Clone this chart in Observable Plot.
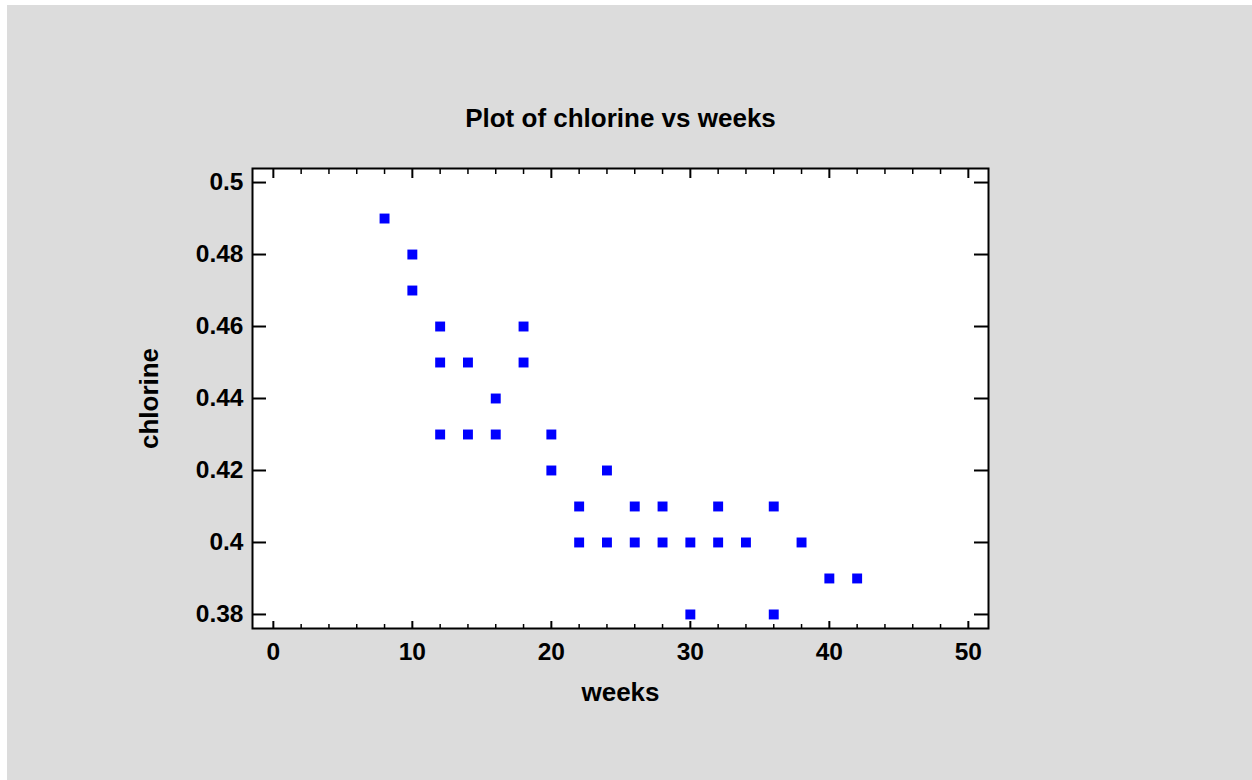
<!DOCTYPE html>
<html><head><meta charset="utf-8">
<script src="https://cdn.jsdelivr.net/npm/d3@7"></script>
<script src="https://cdn.jsdelivr.net/npm/@observablehq/plot@0.6"></script>
<style>
html,body{margin:0;padding:0;background:#fff;}
#chart{position:absolute;left:7px;top:5px;width:1245px;height:775px;background:#dcdcdc;}
#chart svg{display:block;}
</style></head><body><div id="chart"></div>
<script>
const weeks    = [8, 10, 10, 12, 12, 12, 14, 14, 16, 16, 18, 18, 20, 20, 22, 22, 24, 24, 26, 26, 28, 28, 30, 30, 32, 32, 34, 36, 36, 38, 40, 42];
const chlorine = [0.49, 0.48, 0.47, 0.46, 0.45, 0.43, 0.45, 0.43, 0.44, 0.43, 0.46, 0.45, 0.43, 0.42, 0.41, 0.40, 0.42, 0.40, 0.41, 0.40, 0.41, 0.40, 0.40, 0.38, 0.41, 0.40, 0.40, 0.41, 0.38, 0.40, 0.39, 0.39];
const xMajorTicks = [0, 10, 20, 30, 40, 50];
const xMinorTicks = [2, 4, 6, 8, 12, 14, 16, 18, 22, 24, 26, 28, 32, 34, 36, 38, 42, 44, 46, 48];
const yTicks = [0.38, 0.40, 0.42, 0.44, 0.46, 0.48, 0.50];
const yTickLabels = ["0.38", "0.4", "0.42", "0.44", "0.46", "0.48", "0.5"];
const titleText = "Plot of chlorine vs weeks";
const xLabel = "weeks";
const yLabel = "chlorine";

const data = weeks.map((w, i) => ({weeks: w, chlorine: chlorine[i]}));
const yLabelMap = new Map(yTicks.map((t, i) => [t, yTickLabels[i]]));

const W = 1245, H = 775, mL = 245, mR = 264, mT = 163, mB = 152;
const innerW = W - mL - mR, innerH = H - mT - mB;

const chart = Plot.plot({
  width: W, height: H,
  marginLeft: mL, marginRight: mR, marginTop: mT, marginBottom: mB,
  style: {background: "transparent", color: "black", fontFamily: "'Liberation Sans', Arial, sans-serif", fontWeight: "bold", fontSize: "24px", overflow: "visible"},
  x: {domain: [-1.5, 51.45]},
  y: {domain: [0.3761, 0.5039]},
  marks: [
    Plot.frame({fill: "white"}),
    Plot.tickX(xMajorTicks, {x: d => d, insetTop: innerH - 7, stroke: "black", strokeWidth: 2}),
    Plot.tickX(xMajorTicks, {x: d => d, insetBottom: innerH - 10, stroke: "black", strokeWidth: 2}),
    Plot.tickX(xMinorTicks, {x: d => d, insetTop: innerH - 4, stroke: "black", strokeWidth: 1.5}),
    Plot.tickX(xMinorTicks, {x: d => d, insetBottom: innerH - 6, stroke: "black", strokeWidth: 1.5}),
    Plot.tickY(yTicks, {y: d => d, insetRight: innerW - 14, stroke: "black", strokeWidth: 2}),
    Plot.tickY(yTicks, {y: d => d, insetLeft: innerW - 14, stroke: "black", strokeWidth: 2}),
    Plot.axisX(xMajorTicks, {anchor: "bottom", tickSize: 0, tickPadding: 14, label: null, fontSize: 24.5, fontWeight: "bold"}),
    Plot.axisY(yTicks, {anchor: "left", tickSize: 0, tickPadding: 9, label: null, fontSize: 24.5, fontWeight: "bold", tickFormat: d => yLabelMap.get(d)}),
    Plot.dot(data, {x: "weeks", y: "chlorine", symbol: "square", r: 5.6, fill: "#0000ff", stroke: null}),
    Plot.frame({stroke: "black", strokeWidth: 2}),
    Plot.text([titleText], {frameAnchor: "top", dy: -50, lineAnchor: "middle", fontSize: 26, fontWeight: "bold", text: d => d, fill: "black"}),
    Plot.text([xLabel], {frameAnchor: "bottom", dy: 64, lineAnchor: "middle", fontSize: 26, fontWeight: "bold", text: d => d, fill: "black"}),
    Plot.text([yLabel], {frameAnchor: "left", dx: -103, rotate: -90, textAnchor: "middle", lineAnchor: "middle", fontSize: 26, fontWeight: "bold", text: d => d, fill: "black"})
  ]
});
document.getElementById("chart").appendChild(chart);
</script>
</body></html>
